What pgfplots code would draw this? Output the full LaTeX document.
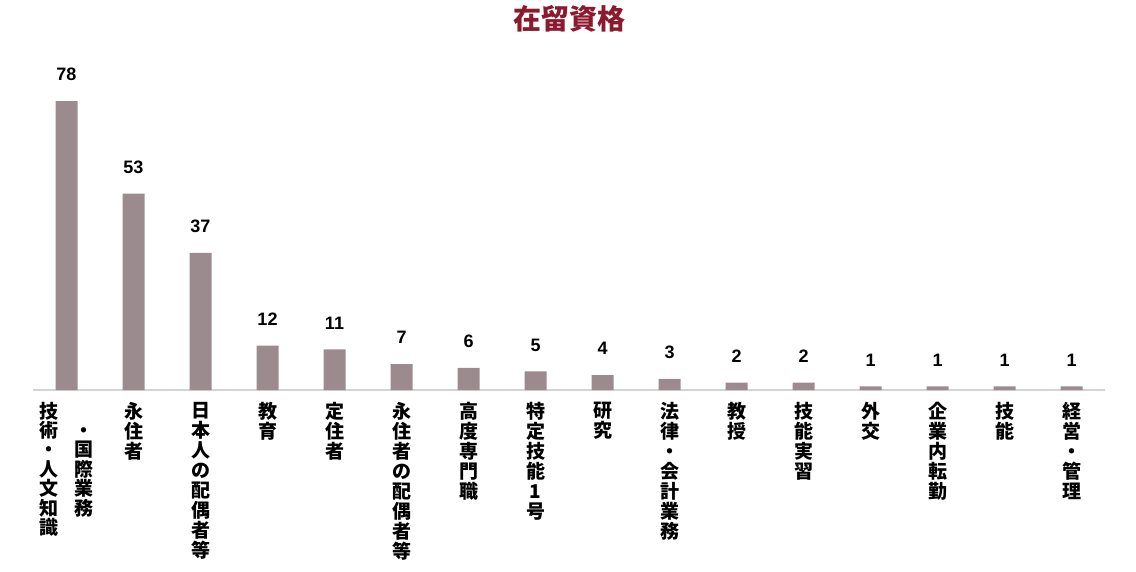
\documentclass[border=0pt]{standalone}
\usepackage{fontspec}
\setmainfont{Noto Sans CJK JP}
\newfontfamily\numfont{Liberation Sans}
\usepackage{pgfplots}
\pgfplotsset{compat=1.18}
\definecolor{barcol}{HTML}{9B8A8E}
\definecolor{titlecol}{HTML}{8B1A2E}
\definecolor{axcol}{HTML}{D4D4D4}

\begin{document}
\begin{tikzpicture}
\begin{axis}[
    name=ax,
    ybar,
    bar width=22pt,
    width=1072pt, height=390pt, scale only axis,
    xmin=-0.5, xmax=15.5, ymin=0, ymax=105.3,
    axis x line*=bottom, axis y line=none,
    x axis line style={axcol, line width=1.5pt},
    xtick=data, ytick=\empty, major tick length=0pt,
    xticklabels={
        {\renewcommand\arraystretch{0.55}\begin{tabular}[t]{@{}c@{\hspace{16pt}}c@{}}技&\\術&・\\・&国\\人&際\\文&業\\知&務\\識&\end{tabular}},
        {永\\住\\者},
        {日\\本\\人\\の\\配\\偶\\者\\等},
        {教\\育},
        {定\\住\\者},
        {永\\住\\者\\の\\配\\偶\\者\\等},
        {高\\度\\専\\門\\職},
        {特\\定\\技\\能\\1\\号},
        {研\\究},
        {法\\律\\・\\会\\計\\業\\務},
        {教\\授},
        {技\\能\\実\\習},
        {外\\交},
        {企\\業\\内\\転\\勤},
        {技\\能},
        {経\\営\\・\\管\\理}
    },
    xticklabel style={align=center, anchor=north, inner sep=0pt, yshift=-12pt,
        font=\bfseries\fontsize{19}{20}\selectfont},
    nodes near coords,
    /pgf/number format/assume math mode=true,
    every node near coord/.append style={font=\numfont\bfseries\fontsize{18}{18}\selectfont,
        inner sep=0pt, anchor=south, yshift=20pt, text=black},
    clip=false,
    title={在留資格},
    title style={at={(0.5,1)}, anchor=center, yshift=-25pt,
        font=\bfseries\fontsize{28}{28}\selectfont, text=titlecol},
]
\addplot[fill=barcol, draw=none] coordinates {
    (0,78) (1,53) (2,37) (3,12) (4,11) (5,7) (6,6) (7,5)
    (8,4) (9,3) (10,2) (11,2) (12,1) (13,1) (14,1) (15,1)
};
\end{axis}
\pgfresetboundingbox
\path[use as bounding box] ([shift={(-33pt,-182pt)}]ax.south west) rectangle ([shift={(31pt,0pt)}]ax.north east);
\end{tikzpicture}
\end{document}
